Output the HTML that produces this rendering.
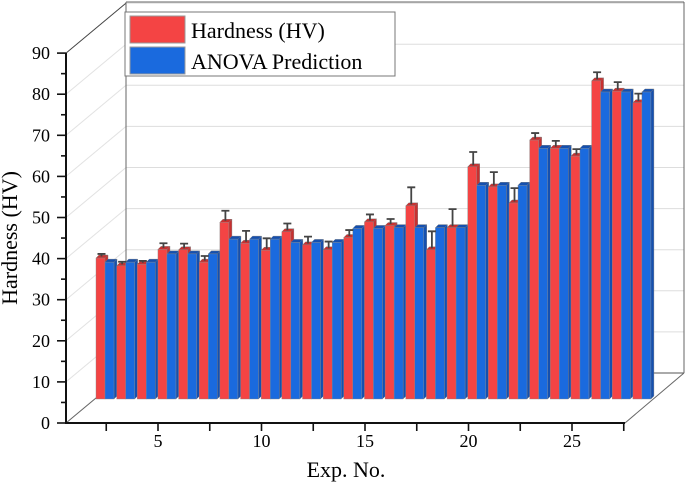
<!DOCTYPE html>
<html><head><meta charset="utf-8"><style>
body{margin:0;background:#fff}
svg{display:block;font-family:"Liberation Serif",serif}
</style></head><body>
<svg id="chart" width="685" height="494" viewBox="0 0 685 494">
<g id="walls"></g>
<g id="bars"></g>
<g id="axes"></g>
<text x="17" y="238" font-size="22" text-anchor="middle" transform="rotate(-90 17 238)">Hardness (HV)</text>
<text x="346" y="477" font-size="22" text-anchor="middle">Exp. No.</text>
<g>
<rect x="125" y="12" width="270" height="64" fill="#fff" stroke="#777" stroke-width="1"/>
<rect x="130" y="16" width="55" height="27" fill="#f44444" stroke="#999"/>
<text x="191" y="38" font-size="22">Hardness (HV)</text>
<rect x="130" y="47" width="55" height="27" fill="#1a6ade" stroke="#999"/>
<text x="191" y="69" font-size="22">ANOVA Prediction</text>
</g>
</svg>
<script>
const expNo=[1,2,3,4,5,6,7,8,9,10,11,12,13,14,15,16,17,18,19,20,21,22,23,24,25,26,27];
const hardness=[34.3,32.4,32.8,36.4,36.3,33.3,43.0,37.9,36.2,40.7,37.5,36.3,39.3,43.1,42.2,47.0,36.3,41.7,56.5,51.6,47.7,63.0,61.0,59.1,77.4,74.9,72.1];
const hardnessErr=[1.0,1.0,0.8,1.5,1.5,1.5,2.8,3.0,2.9,2.0,2.0,2.0,1.8,1.8,1.6,4.5,4.5,4.5,3.6,3.6,3.6,1.7,1.8,1.7,2.1,2.2,2.2];
const anova=[33.3,33.3,33.3,35.3,35.3,35.3,38.9,38.9,38.9,38.1,38.1,38.1,41.5,41.5,41.7,41.7,41.7,41.7,52.0,52.0,52.0,61.0,61.0,61.0,74.7,74.7,74.7];
const yTicks=[0,10,20,30,40,50,60,70,80,90];
const xTickLabels=[5,10,15,20,25];

const NS="http://www.w3.org/2000/svg";
function mk(tag,attrs,parent){const e=document.createElementNS(NS,tag);for(const k in attrs)e.setAttribute(k,attrs[k]);parent.appendChild(e);return e;}
const PX=4.11;
const yFront=v=>423-v*PX;
const yMid=v=>399-v*PX;
const xGroup=n=>96+(n-1)*20.65;
const xFront=n=>158+(n-5)*20.7;

const walls=document.getElementById('walls');
yTicks.forEach(t=>{
  const yb=yFront(t)-50;
  let l=mk('line',{x1:126,y1:yb,x2:684,y2:yb,stroke:t===0?'#555':'#ddd','stroke-width':1},walls);
  
  
  let d=mk('line',{x1:66,y1:yFront(t),x2:126,y2:yb,stroke:t===90?'#444':'#e2e2e2','stroke-width':1},walls);
  
  
});
[['M126 2 V373','back-left-edge'],['M684 2 V373','back-right-edge'],['M126 2 H684','back-top-edge'],['M66 423 L126 373','floor-left-edge'],['M625 423 L684 373','floor-right-edge']].forEach(p=>{
  const e=mk('path',{d:p[0],stroke:'#666',fill:'none','stroke-width':1},walls);
  
  
});

const bars=document.getElementById('bars');
function bar3d(x,v,fill,side,name){
  const g=mk('g',{},bars);
  
  
  const y=yMid(v),w=9,dx=3,dy=3;
  mk('path',{d:`M${x+w} ${y} l${dx} ${-dy} V${399-dy} l${-dx} ${dy} Z`,fill:side,stroke:'#777','stroke-width':0.4},g);
  mk('path',{d:`M${x} ${y} l${dx} ${-dy} h${w} l${-dx} ${dy} Z`,fill:side,stroke:'#777','stroke-width':0.4},g);
  mk('rect',{x:x,y:y,width:w,height:399-y,fill:fill,stroke:'#888','stroke-width':0.4},g);
}
expNo.forEach((n,i)=>{
  const x=xGroup(n);
  bar3d(x,hardness[i],'#f44444','#c83030','bar-hardness-'+n);
  bar3d(x+9,anova[i],'#1a6ade','#1450b0','bar-anova-'+n);
  const cx=x+5.5,y0=yMid(hardness[i])-1.5,y1=yMid(hardness[i]+hardnessErr[i]);
  const e=mk('path',{d:`M${cx} ${y0} V${y1} M${cx-4} ${y1} H${cx+4}`,stroke:'#444','stroke-width':1.8,fill:'none'},bars);
  
  
});

const axes=document.getElementById('axes');
mk('line',{x1:66,y1:424,x2:66,y2:53,stroke:'#111','stroke-width':2},axes);
mk('line',{x1:65,y1:423,x2:625,y2:423,stroke:'#111','stroke-width':2},axes);
yTicks.forEach(t=>{
  const y=yFront(t);
  mk('line',{x1:57,y1:y,x2:66,y2:y,stroke:'#111','stroke-width':1.6},axes);
  if(t<90) mk('line',{x1:61,y1:y-20.55,x2:66,y2:y-20.55,stroke:'#111','stroke-width':1.6},axes);
  const tx=mk('text',{x:50,y:y+6,'font-size':18,'text-anchor':'end'},axes);
  tx.textContent=t;
  
  
});
for(let k=2.5;k<=27.5;k+=2.5){
  const x=xFront(k);
  mk('line',{x1:x,y1:423,x2:x,y2:431,stroke:'#111','stroke-width':1.6},axes);
}
xTickLabels.forEach(t=>{
  const tx=mk('text',{x:xFront(t),y:447,'font-size':18,'text-anchor':'middle'},axes);
  tx.textContent=t;
  
  
});
</script>
</body></html>
